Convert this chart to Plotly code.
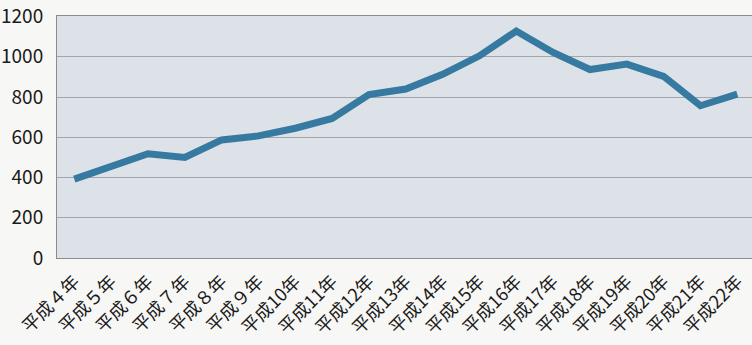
import plotly.graph_objects as go

years = ["平成４年", "平成５年", "平成６年", "平成７年", "平成８年", "平成９年", "平成10年",
         "平成11年", "平成12年", "平成13年", "平成14年", "平成15年", "平成16年",
         "平成17年", "平成18年", "平成19年", "平成20年", "平成21年", "平成22年"]
values = [392, 455, 518, 500, 587, 607, 645, 694, 812, 840, 913, 1005, 1128,
          1022, 937, 964, 903, 757, 815]
y_ticks = [0, 200, 400, 600, 800, 1000, 1200]

fig = go.Figure()
fig.add_trace(go.Scatter(
    x=years, y=values, mode="lines",
    line=dict(color="#367aa2", width=7),
))

font = "Noto Sans CJK JP, Noto Sans, sans-serif"
fig.update_layout(
    width=752, height=345,
    margin=dict(l=57, r=0, t=16, b=87),
    paper_bgcolor="#f7f7f5",
    plot_bgcolor="#dde2e8",
    showlegend=False,
    font=dict(family=font, size=18, color="#1a1a1a"),
    xaxis=dict(
        type="category", range=[-0.47, 18.4], tickangle=-45,
        showgrid=False, showline=True, linecolor="#8a8d90", linewidth=1,
        mirror=True, ticks="", tickfont=dict(size=18), ticklabelstandoff=5,
        automargin=False, ticklabeloverflow="allow",
    ),
    yaxis=dict(
        range=[0, 1203], tickvals=y_ticks, showgrid=True,
        gridcolor="#a2a6aa", gridwidth=1, showline=True, linecolor="#8a8d90",
        linewidth=1, mirror=True, ticks="", zeroline=False,
        tickfont=dict(size=19), ticklabelstandoff=9,
        automargin=False, ticklabeloverflow="allow",
    ),
)
fig.write_html("out.html")
